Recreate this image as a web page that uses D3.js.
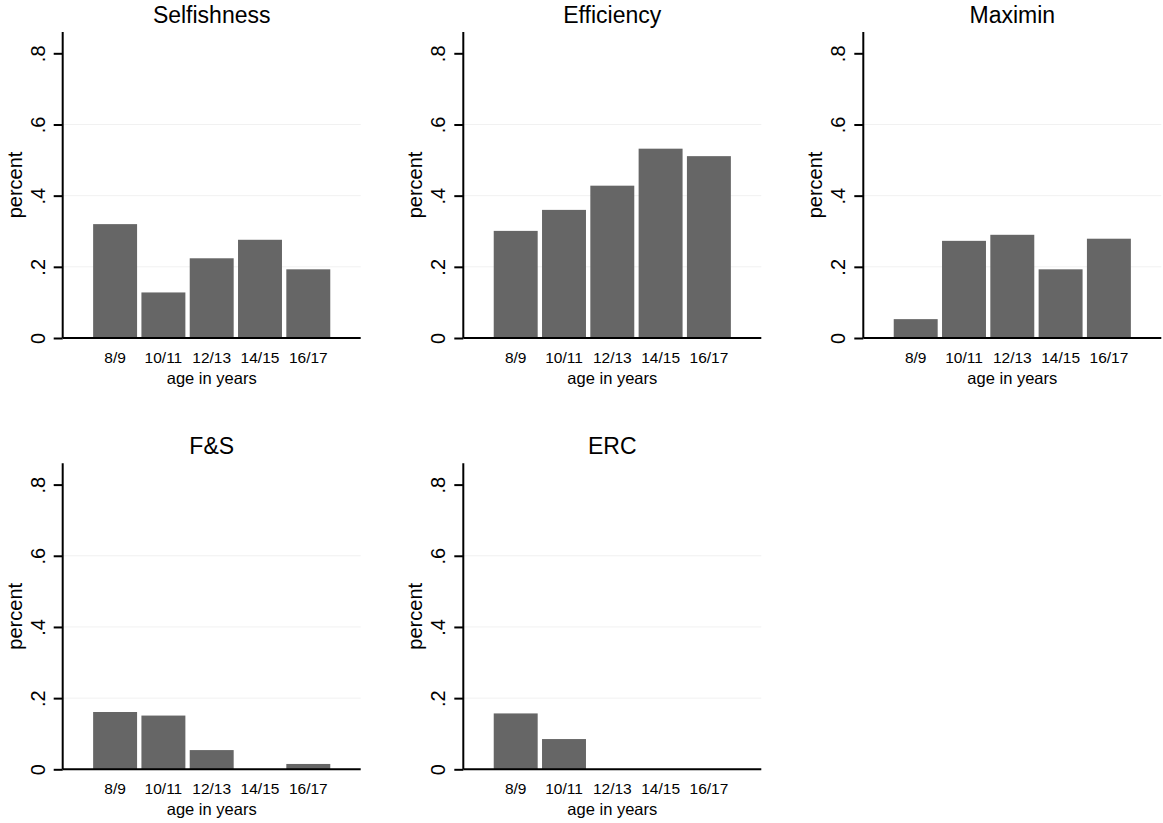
<!DOCTYPE html>
<html lang="en">
<head>
    <meta charset="UTF-8">
    <title>Preferences by age</title>
    <script src="https://d3js.org/d3.v7.min.js"></script>
    <style>
        body { margin: 0; background: #fff; }
        text { font-family: "Liberation Sans", Arial, sans-serif; fill: #000; }
        .bar { fill: #666666; }
        .grid line { stroke: #f1f1f1; stroke-width: 1; }
    </style>
</head>
<body>
    <svg width="1163" height="823"></svg>
    <script>
        // Data (share of subjects per age group)
        const ageGroups = ["8/9", "10/11", "12/13", "14/15", "16/17"];
        const panelTitles = ["Selfishness", "Efficiency", "Maximin", "F&S", "ERC"];
        const selfishness = [0.320, 0.128, 0.224, 0.276, 0.193];
        const efficiency = [0.301, 0.360, 0.428, 0.532, 0.511];
        const maximin = [0.053, 0.273, 0.290, 0.193, 0.279];
        const fehrSchmidt = [0.161, 0.151, 0.054, 0, 0.015];
        const erc = [0.157, 0.085, 0, 0, 0];
        const yTickValues = [0, 0.2, 0.4, 0.6, 0.8];
        const yTickLabels = ["0", ".2", ".4", ".6", ".8"];

        const series = [selfishness, efficiency, maximin, fehrSchmidt, erc];

        const svg = d3.select("svg");

        // panel geometry
        const plotW = 298;
        const plotH = 284.7 / 0.8 * 0.86;   // axis runs up to 0.86
        const colX = [62.7, 463.3, 863.3];
        const rowBase = [338, 769.3];

        series.forEach((values, i) => {
            const ox = colX[i % 3];
            const base = rowBase[Math.floor(i / 3)];

            const g = svg.append("g")
                .attr("transform", `translate(${ox},${base - plotH})`);

            const x = d3.scaleBand()
                .domain(ageGroups)
                .range([0, plotW])
                .paddingInner(0.09)
                .paddingOuter(0.63);

            const y = d3.scaleLinear()
                .domain([0, 0.86])
                .range([plotH, 0]);

            // faint grid lines
            g.append("g")
                .attr("class", "grid")
                .selectAll("line")
                .data(yTickValues.filter(v => v > 0 && v < 0.8))
                .join("line")
                .attr("x1", 0)
                .attr("x2", plotW)
                .attr("y1", d => y(d))
                .attr("y2", d => y(d));

            // bars
            g.selectAll(".bar")
                .data(values.map((v, j) => ({ group: ageGroups[j], value: v })))
                .join("rect")
                .attr("class", "bar")
                .attr("x", d => x(d.group))
                .attr("width", x.bandwidth())
                .attr("y", d => y(d.value))
                .attr("height", d => plotH - y(d.value));

            // y axis
            const yAxis = g.append("g")
                .call(d3.axisLeft(y)
                    .tickValues(yTickValues)
                    .tickFormat((d, k) => yTickLabels[k])
                    .tickSize(9)
                    .tickPadding(0));
            yAxis.select(".domain")
                .attr("d", `M0,0V${plotH}`)
                .attr("stroke", "#000")
                .attr("stroke-width", 2);
            yAxis.selectAll(".tick line")
                .attr("stroke", "#000")
                .attr("stroke-width", 2);
            yAxis.selectAll(".tick text")
                .attr("x", null)
                .attr("dy", null)
                .attr("transform", "translate(-18,0) rotate(-90)")
                .attr("text-anchor", "middle")
                .attr("font-size", "20px");

            // x axis
            const xAxis = g.append("g")
                .attr("transform", `translate(0,${plotH})`)
                .call(d3.axisBottom(x).tickSize(0).tickPadding(14));
            xAxis.select(".domain")
                .attr("d", `M0,0H${plotW}`)
                .attr("stroke", "#000")
                .attr("stroke-width", 2);
            xAxis.selectAll(".tick text")
                .attr("font-size", "15.5px");

            // axis titles
            g.append("text")
                .attr("x", plotW / 2)
                .attr("y", plotH + 46)
                .attr("text-anchor", "middle")
                .attr("font-size", "16.5px")
                .text("age in years");

            g.append("text")
                .attr("transform", `translate(${-41},${y(0.43)}) rotate(-90)`)
                .attr("text-anchor", "middle")
                .attr("font-size", "20px")
                .text("percent");

            // panel title
            svg.append("text")
                .attr("x", ox + plotW / 2)
                .attr("y", base - plotH - 9)
                .attr("text-anchor", "middle")
                .attr("font-size", "23px")
                .text(panelTitles[i]);
        });
    </script>
</body>
</html>
